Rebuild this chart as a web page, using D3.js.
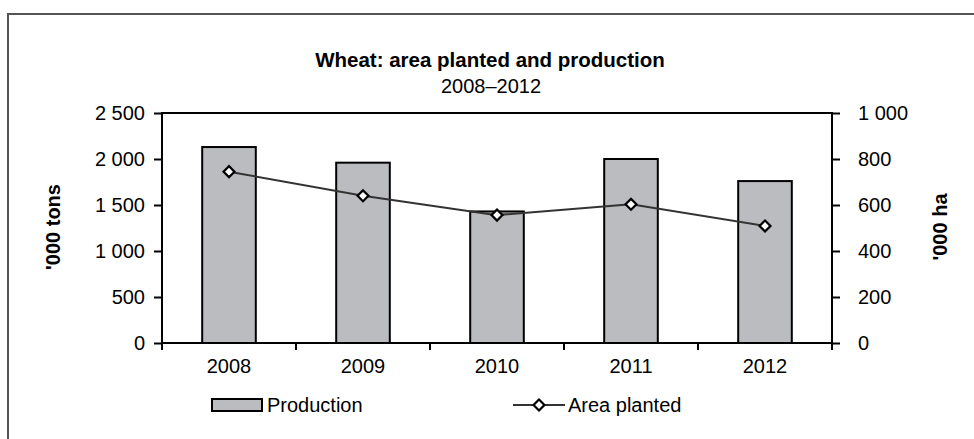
<!DOCTYPE html>
<html><head><meta charset="utf-8">
<script src="https://cdn.jsdelivr.net/npm/d3@7"></script>
<style>
body{margin:0;background:#fff;}
text{font-family:"Liberation Sans",Arial,sans-serif;fill:#000;}
</style></head>
<body><svg id="c" width="974" height="439"></svg>
<script>
const years = ["2008","2009","2010","2011","2012"];
const production = [2130, 1960, 1430, 2000, 1760];
const areaPlanted = [745, 640, 556, 603, 509];
const leftTicks = [0, 500, 1000, 1500, 2000, 2500];
const rightTicks = [0, 200, 400, 600, 800, 1000];
const titleText = "Wheat: area planted and production";
const subtitleText = "2008–2012";

const svg = d3.select("#c");
const L = 162, R = 832, T = 113, B = 343;
const FS = 20;
const fmt = v => d3.format(",")(v).replace(/,/g, " ");

// outer frame
svg.append("rect").attr("x", 8).attr("y", 14).attr("width", 1000).attr("height", 500)
  .attr("fill", "#fff").attr("stroke", "#555").attr("stroke-width", 2);

const x = d3.scaleBand().domain(years).range([L, R]).padding(0);
const yL = d3.scaleLinear().domain([0, 2500]).range([B, T]);
const yR = d3.scaleLinear().domain([0, 1000]).range([B, T]);

// plot border
svg.append("rect").attr("x", L).attr("y", T).attr("width", R - L).attr("height", B - T)
  .attr("fill", "none").attr("stroke", "#000").attr("stroke-width", 2);

// bars
const bw = x.bandwidth() * 0.4;
svg.append("g").selectAll("rect").data(years).join("rect")
  .attr("x", d => x(d) + x.bandwidth() / 2 - bw / 2)
  .attr("y", (d, i) => yL(production[i]))
  .attr("width", bw)
  .attr("height", (d, i) => B - yL(production[i]))
  .attr("fill", "#bbbcc0").attr("stroke", "#000").attr("stroke-width", 2);

// line
const line = d3.line().x((d, i) => x(years[i]) + x.bandwidth() / 2).y(d => yR(d));
svg.append("path").datum(areaPlanted).attr("d", line)
  .attr("fill", "none").attr("stroke", "#333").attr("stroke-width", 2);
svg.append("g").selectAll("path").data(areaPlanted).join("path")
  .attr("d", d3.symbol().type(d3.symbolSquare).size(60))
  .attr("transform", (d, i) => `translate(${x(years[i]) + x.bandwidth() / 2},${yR(d)}) rotate(45)`)
  .attr("fill", "#fff").attr("stroke", "#000").attr("stroke-width", 2.2);

// axes
const axL = svg.append("g").attr("transform", `translate(${L},0)`)
  .call(d3.axisLeft(yL).tickValues(leftTicks).tickFormat(fmt).tickSize(8).tickPadding(9));
const axR = svg.append("g").attr("transform", `translate(${R},0)`)
  .call(d3.axisRight(yR).tickValues(rightTicks).tickFormat(fmt).tickSize(8).tickPadding(18));
const axB = svg.append("g").attr("transform", `translate(0,${B})`)
  .call(d3.axisBottom(x).tickSize(0).tickPadding(16));
// category boundary ticks
const bounds = years.map(d => x(d)).concat([x(years[years.length - 1]) + x.bandwidth()]);
svg.append("g").selectAll("line").data(bounds).join("line")
  .attr("x1", d => d).attr("x2", d => d)
  .attr("y1", B).attr("y2", B + 7).attr("stroke", "#000").attr("stroke-width", 2);

[axL, axR, axB].forEach(g => {
  g.selectAll(".tick line").attr("stroke", "#000").attr("stroke-width", 2);
  g.selectAll("text").attr("font-size", FS).attr("font-family", "Liberation Sans, Arial, sans-serif").attr("fill", "#000");
  g.select(".domain").remove();
});

// axis titles
svg.append("text").attr("transform", "translate(55,227) rotate(-90)")
  .attr("text-anchor", "middle").attr("dominant-baseline", "middle")
  .attr("font-size", FS).attr("font-weight", "bold").text("'000 tons");
svg.append("text").attr("transform", "translate(942,227) rotate(-90)")
  .attr("text-anchor", "middle").attr("dominant-baseline", "middle")
  .attr("font-size", FS).attr("font-weight", "bold").text("'000 ha");

// title
svg.append("text").attr("x", 490).attr("y", 67).attr("text-anchor", "middle")
  .attr("font-size", 20.5).attr("font-weight", "bold").text(titleText);
svg.append("text").attr("x", 491).attr("y", 93).attr("text-anchor", "middle")
  .attr("font-size", FS).text(subtitleText);

// legend
svg.append("rect").attr("x", 212).attr("y", 399).attr("width", 50).attr("height", 12)
  .attr("fill", "#bbbcc0").attr("stroke", "#000").attr("stroke-width", 2);
svg.append("text").attr("x", 267).attr("y", 412).attr("font-size", FS).text("Production");
svg.append("line").attr("x1", 513).attr("x2", 565).attr("y1", 405).attr("y2", 405)
  .attr("stroke", "#333").attr("stroke-width", 2);
svg.append("path").attr("d", d3.symbol().type(d3.symbolSquare).size(60))
  .attr("transform", "translate(539,405) rotate(45)")
  .attr("fill", "#fff").attr("stroke", "#000").attr("stroke-width", 2.2);
svg.append("text").attr("x", 568).attr("y", 412).attr("font-size", FS).text("Area planted");
</script></body></html>
